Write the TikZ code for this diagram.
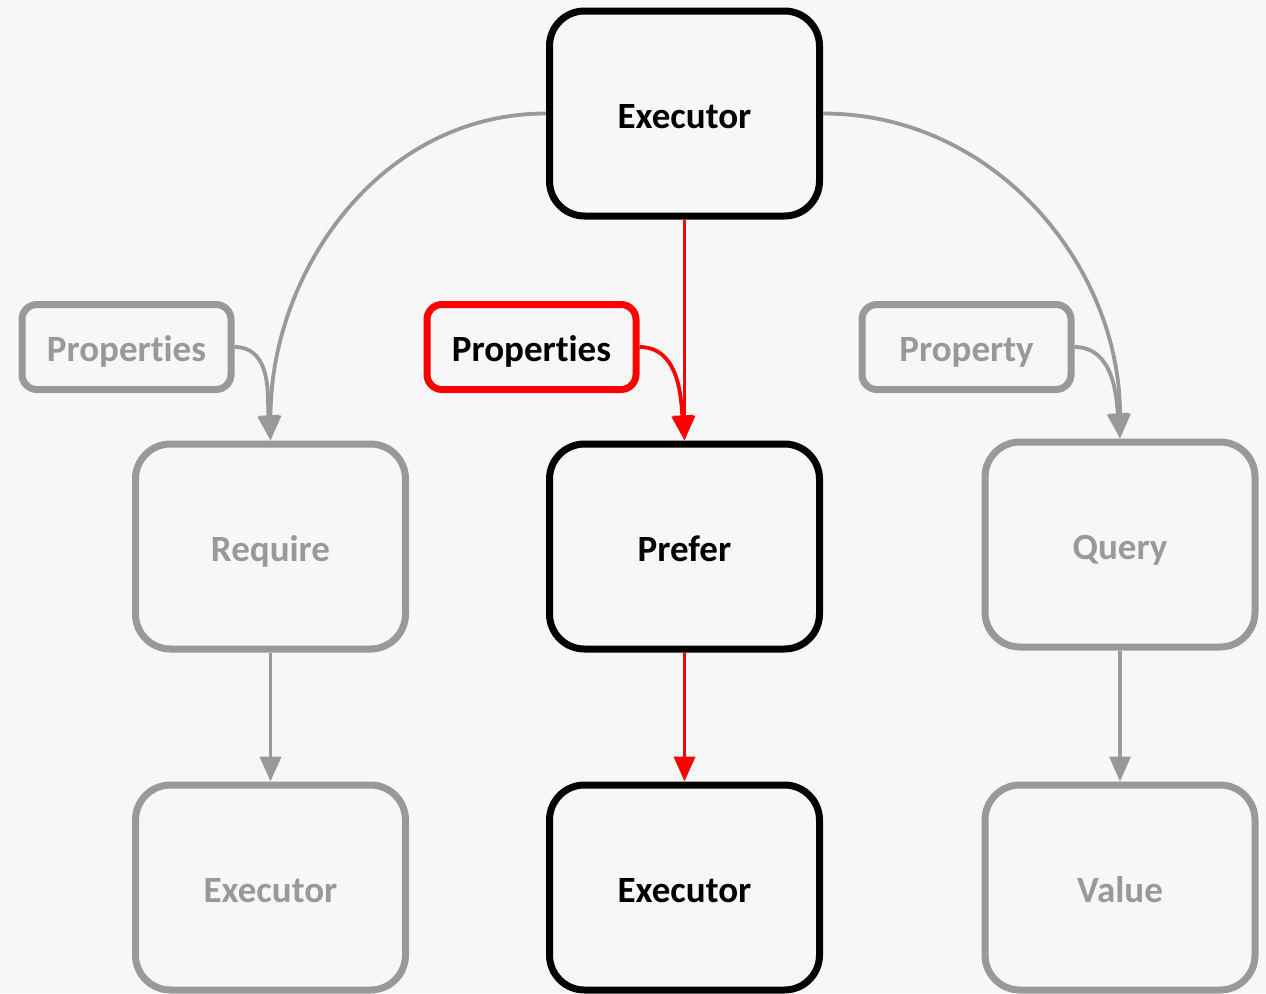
\documentclass[tikz,border=0pt]{standalone}
\usepackage{fontspec}
\setmainfont[RawFeature={-liga;-clig;-calt;-dlig}]{Carlito}
\usetikzlibrary{arrows.meta}
\definecolor{bg}{HTML}{F7F7F7}
\definecolor{gr}{HTML}{999999}
\definecolor{rd}{HTML}{FF0000}
\tikzset{
  boxtext/.style={font=\fontsize{37}{40}\selectfont\bfseries, text height=37pt, text depth=8pt},
  bigbox/.style={draw, line width=7pt, rounded corners=35pt, fill=bg,
    minimum width=270pt, minimum height=205pt, inner sep=0pt, boxtext},
  smallbox/.style={draw, line width=7pt, rounded corners=15pt, fill=bg,
    minimum width=209pt, minimum height=85pt, inner sep=0pt, boxtext},
  active/.style={draw=black, text=black},
  passive/.style={draw=gr, text=gr},
  redbox/.style={draw=rd, text=black},
  grayarrow/.style={draw=gr, line width=3.8pt, -{Triangle[width=21pt,length=25pt]}},
  redarrow/.style={draw=rd, line width=3.8pt, -{Triangle[width=21pt,length=25pt]}},
}
\begin{document}
\begin{tikzpicture}[x=1pt,y=-1pt]
\fill[bg] (0,0) rectangle (1266,993);
\useasboundingbox (0,0) rectangle (1266,993);

\node[bigbox,active] (top) at (684.5,113.5) {Executor};
\node[bigbox,passive] (req) at (270.5,546.5) {Require};
\node[bigbox,active] (pref) at (684.5,546.5) {Prefer};
\node[bigbox,passive] (qry) at (1120,544.5) {Query};
\node[bigbox,passive] (exl) at (270.5,887.5) {Executor};
\node[bigbox,active] (exm) at (684.5,887.5) {Executor};
\node[bigbox,passive] (val) at (1120,887.5) {Value};

\node[smallbox,passive] (propl) at (126.5,347) {Propert\kern0pt ies};
\node[smallbox,redbox] (propm) at (531.5,347) {Propert\kern0pt ies};
\node[smallbox,passive] (propr) at (966.5,347) {Property};

\draw[grayarrow] (top.west) to[out=180,in=90] (req.north);
\draw[grayarrow] (top.east) to[out=0,in=90] (qry.north);
\draw[grayarrow] (propl.east) to[out=0,in=95] (req.north);
\draw[grayarrow] (propr.east) to[out=0,in=95] (qry.north);
\draw[redarrow] (propm.east) to[out=0,in=95] (pref.north);
\draw[redarrow] (top.south) -- (pref.north);
\draw[redarrow] (pref.south) -- (exm.north);
\draw[grayarrow] (req.south) -- (exl.north);
\draw[grayarrow] (qry.south) -- (val.north);
\end{tikzpicture}
\end{document}
